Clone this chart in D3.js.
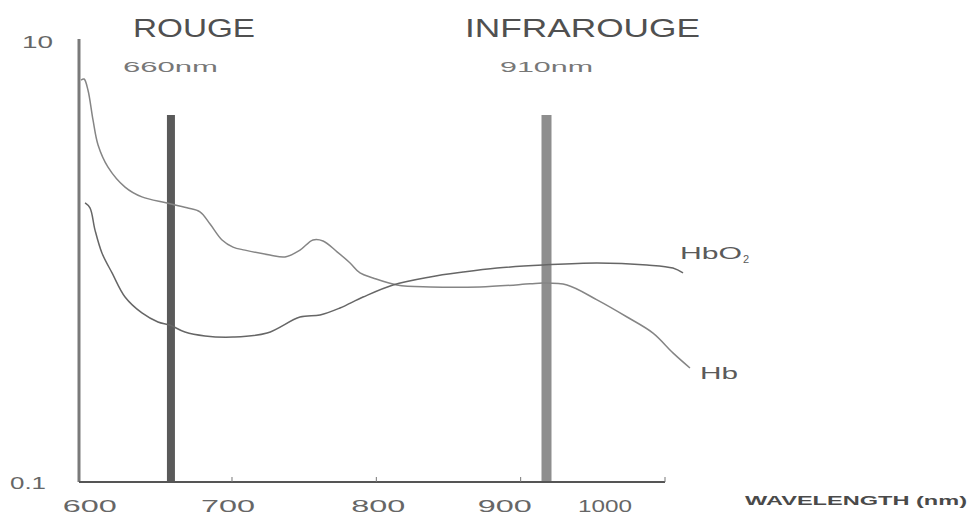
<!DOCTYPE html>
<html>
<head>
<meta charset="utf-8">
<script src="https://cdn.jsdelivr.net/npm/d3@7"></script>
<style>
  body { margin: 0; background: #fff; }
  text { font-family: "Liberation Sans", Arial, sans-serif; }
</style>
</head>
<body>
<div id="chart"></div>
<script>
// absorption spectra (wavelength nm, extinction)

let width = 967;
let height = 521;

let hb = [
    [595.4, 6.59], [597.5, 6.66], [600.2, 5.94], [603.7, 4.35], [607.2, 3.35],
    [614.1, 2.66], [625.9, 2.16], [637.6, 1.95], [655.0, 1.83], [668.8, 1.74],
    [677.8, 1.67], [684.8, 1.47], [693.1, 1.245], [700.7, 1.156], [709.0, 1.12],
    [726.3, 1.065], [736.7, 1.043], [747.1, 1.12], [756.1, 1.245], [763.1, 1.232],
    [772.8, 1.10], [781.8, 0.98], [788.7, 0.883], [797.7, 0.838], [814.3, 0.779],
    [837.2, 0.763], [871.8, 0.763], [906.5, 0.788], [915.5, 0.795], [932.1, 0.779],
    [952.9, 0.667], [973.7, 0.558], [991.7, 0.472], [1005.5, 0.384], [1017.3, 0.328]
]

let hbo2 = [
    [598.2, 1.83], [601.6, 1.74], [605.1, 1.38], [609.9, 1.087], [616.9, 0.883],
    [625.9, 0.687], [637.6, 0.582], [648.7, 0.530], [657.0, 0.513], [667.4, 0.477],
    [681.3, 0.458], [700.7, 0.453], [724.3, 0.472], [747.1, 0.558], [761.0, 0.570],
    [774.8, 0.613], [790.8, 0.687], [811.6, 0.779], [837.2, 0.847], [860.1, 0.891],
    [883.6, 0.929], [915.5, 0.959], [952.9, 0.98], [987.5, 0.959], [1005.5, 0.929],
    [1012.5, 0.883]
]

let xTicks = [600, 700, 800, 900, 1000]
let yTicks = [0.1, 10]

// led wavelengths (bars sit where the scan draws them)
let bands = ["ROUGE", "INFRAROUGE"]
let bandNm = ["660nm", "910nm"]
let bandAt = [657.7, 917.9]

let svg = d3.select("#chart").append("svg")
    .attr("width", width)
    .attr("height", height);

let x = d3.scaleLinear([594, 1000], [79, 665])
let y = d3.scaleLog([0.1, 10], [482, 40])

let txt = (str, tx, ty, size, len, fill, weight) => svg.append("text")
    .attr("x", tx)
    .attr("y", ty)
    .attr("font-size", size)
    .attr("font-weight", weight || "normal")
    .attr("fill", fill)
    .attr("textLength", len)
    .attr("lengthAdjust", "spacingAndGlyphs")
    .text(str)

// band bars
svg.selectAll(".band")
    .data(bandAt)
    .join("rect")
    .attr("class", "band")
    .attr("x", (d, i) => x(d) - (i ? 5 : 4))
    .attr("y", 115)
    .attr("width", (d, i) => i ? 10 : 8)
    .attr("height", y(0.1) - 115)
    .attr("fill", (d, i) => i ? "#8e8e8e" : "#5a5a5a")

// curves
let line = d3.line()
    .x(d => x(d[0]))
    .y(d => y(d[1]))
    .curve(d3.curveCatmullRom)

svg.selectAll(".curve")
    .data([hb, hbo2])
    .join("path")
    .attr("class", "curve")
    .attr("d", line)
    .attr("fill", "none")
    .attr("stroke", (d, i) => i ? "#666" : "#858585")
    .attr("stroke-width", 1.5)

// axes
svg.append("line")
    .attr("x1", x(594)).attr("x2", x(594))
    .attr("y1", 39).attr("y2", y(0.1))
    .attr("stroke", "#7a7a7a")
    .attr("stroke-width", 3)

svg.append("line")
    .attr("x1", x(594)).attr("x2", x(1000))
    .attr("y1", y(0.1)).attr("y2", y(0.1))
    .attr("stroke", "#555")
    .attr("stroke-width", 2)

svg.selectAll(".tick")
    .data(xTicks.slice(1))
    .join("line")
    .attr("class", "tick")
    .attr("x1", d => x(d)).attr("x2", d => x(d))
    .attr("y1", y(0.1)).attr("y2", y(0.1) - 5)
    .attr("stroke", "#777")
    .attr("stroke-width", 1)

// tick labels (the scan prints them a little off their ticks)
let xShift = [2, -4, 2, -16, -60]
xTicks.forEach((d, i) => {
    txt(d, x(d) + xShift[i] - 27, 512, 17, 54, "#666")
})
txt(yTicks[1], 22, 48, 16, 31, "#666")
txt(yTicks[0], 10, 489, 16, 36, "#666")

txt("WAVELENGTH (nm)", 745, 505, 12, 222, "#4a4a4a", "bold")

// band labels
txt(bands[0], 133, 37, 25, 122, "#505050")
txt(bands[1], 465, 37, 25, 235, "#505050")
txt(bandNm[0], 123, 72, 15, 95, "#777")
txt(bandNm[1], 500, 72, 15, 93, "#777")

// curve names
txt("HbO", 680, 259, 17, 62, "#5a5a5a")
svg.append("text")
    .attr("x", 743).attr("y", 263)
    .attr("font-size", 11)
    .attr("fill", "#5a5a5a")
    .text("2")
txt("Hb", 700, 379, 17, 38, "#5a5a5a")
</script>
</body>
</html>
